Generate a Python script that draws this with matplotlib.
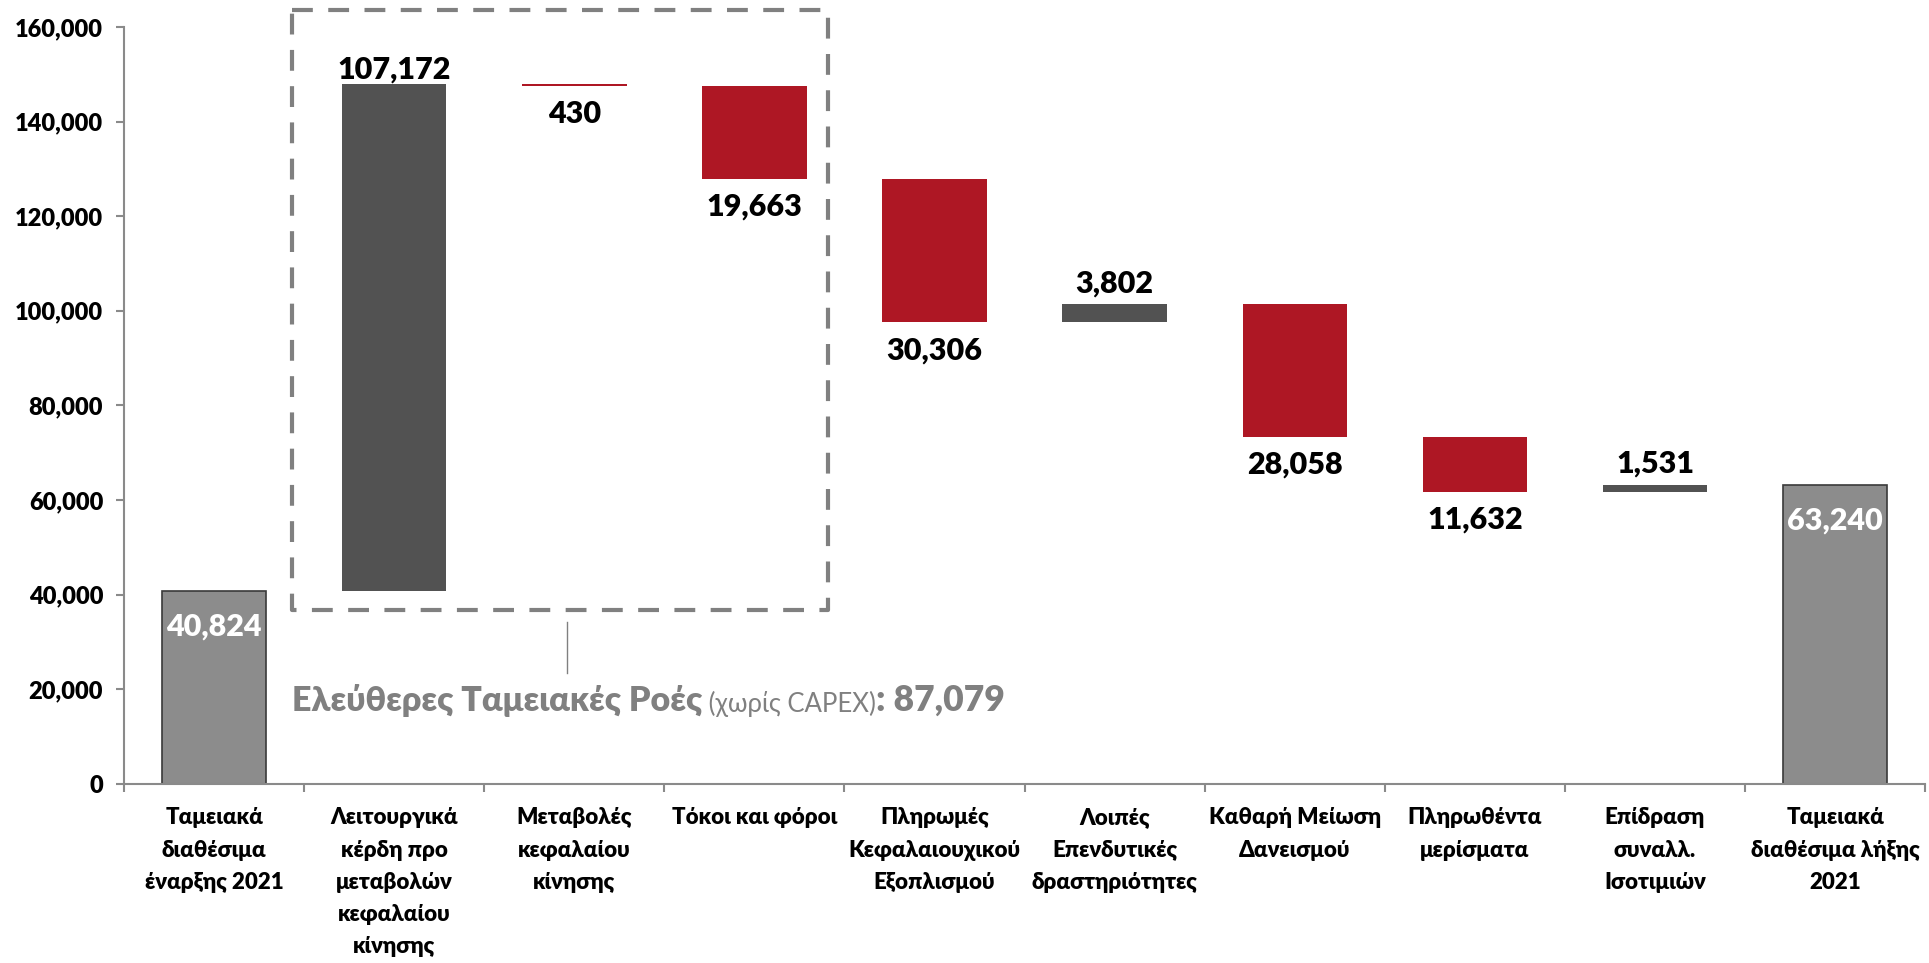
import numpy as np
import matplotlib.pyplot as plt

plt.rcParams['font.family'] = ['Lato', 'Open Sans', 'DejaVu Sans']

# data
categories = [
    "Ταμειακά\nδιαθέσιμα\nέναρξης 2021",
    "Λειτουργικά\nκέρδη προ\nμεταβολών\nκεφαλαίου\nκίνησης",
    "Μεταβολές\nκεφαλαίου\nκίνησης",
    "Τόκοι και φόροι",
    "Πληρωμές\nΚεφαλαιουχικού\nΕξοπλισμού",
    "Λοιπές\nΕπενδυτικές\nδραστηριότητες",
    "Καθαρή Μείωση\nΔανεισμού",
    "Πληρωθέντα\nμερίσματα",
    "Επίδραση\nσυναλλ.\nΙσοτιμιών",
    "Ταμειακά\nδιαθέσιμα λήξης\n2021",
]
start_value = 40824
deltas = [107172, -430, -19663, -30306, 3802, -28058, -11632, 1531]
end_value = 63240
fcf_value = 87079
yticks = [0, 20000, 40000, 60000, 80000, 100000, 120000, 140000, 160000]

RED = '#AE1724'
DARK = '#525252'
LIGHT = '#8C8C8C'
AXIS = '#8A8A8A'
NOTE = '#808080'
W = 'heavy'

fig = plt.figure(figsize=(19.29, 9.63), dpi=100)
ax = fig.add_axes([0.0643, 0.186, 0.9337, 0.786])

x = np.arange(len(categories))
width = 0.58

# start / end totals
for xi, val in [(0, start_value), (len(categories) - 1, end_value)]:
    ax.bar(xi, val, width=width, color=LIGHT, edgecolor='#3A3A3A', linewidth=1.2)
    ax.annotate(f"{val:,}", (xi, val), xytext=(0, -16), textcoords='offset points',
                ha='center', va='top', color='white', fontsize=22, fontweight=W)

# floating deltas
level = start_value
for i, d in enumerate(deltas, start=1):
    bottom = level if d > 0 else level + d
    ax.bar(i, abs(d), bottom=bottom, width=width, color=DARK if d > 0 else RED, linewidth=0)
    if d > 0:
        off = 0 if i == 1 else 5
        ax.annotate(f"{abs(d):,}", (i, level + d), xytext=(0, off), textcoords='offset points',
                    ha='center', va='bottom', fontsize=22, fontweight=W, color='black')
    else:
        ax.annotate(f"{abs(d):,}", (i, level + d), xytext=(0, -10), textcoords='offset points',
                    ha='center', va='top', fontsize=22, fontweight=W, color='black')
    level += d

ax.set_xlim(-0.5, len(categories) - 0.5)
ax.set_ylim(0, 160000)

# axes styling
for s in ['top', 'right']:
    ax.spines[s].set_visible(False)
for s in ['left', 'bottom']:
    ax.spines[s].set_color(AXIS)
    ax.spines[s].set_linewidth(1.5)

ax.set_yticks(yticks)
ax.set_yticklabels([f"{v:,}" for v in yticks], fontsize=17, fontweight=W)
ax.tick_params(axis='y', length=6, width=1.5, color=AXIS, pad=9)

ax.set_xticks(x)
ax.set_xticklabels(categories, fontsize=16, fontweight=W, linespacing=1.65)
ax.set_xticks(np.arange(-0.5, len(categories), 1), minor=True)
ax.tick_params(axis='x', which='major', length=0, pad=17)
ax.tick_params(axis='x', which='minor', length=6, width=1.5, color=AXIS)

# dashed box around free cash flow items
ax.plot([0.43, 3.41, 3.41, 0.43, 0.43], [163600, 163600, 36700, 36700, 163600],
        color=NOTE, lw=3, linestyle=(0, (5, 3.7)), clip_on=False)
ax.plot([1.96, 1.96], [34300, 23400], color=NOTE, lw=1, clip_on=False)

t1 = ax.text(0.43, 14200, "Ελεύθερες Ταμειακές Ροές", fontsize=24.5, fontweight=W,
             color=NOTE, ha='left', va='bottom')
t2 = ax.annotate(" (χωρίς CAPEX)", xy=(1, 0), xycoords=t1, fontsize=18.5, color=NOTE,
                 ha='left', va='bottom')
t3 = ax.annotate(f": {fcf_value:,}", xy=(1, 0), xycoords=t2, fontsize=25.5, fontweight=W,
                 color=NOTE, ha='left', va='bottom')

fig.savefig('out.png', dpi=100)
